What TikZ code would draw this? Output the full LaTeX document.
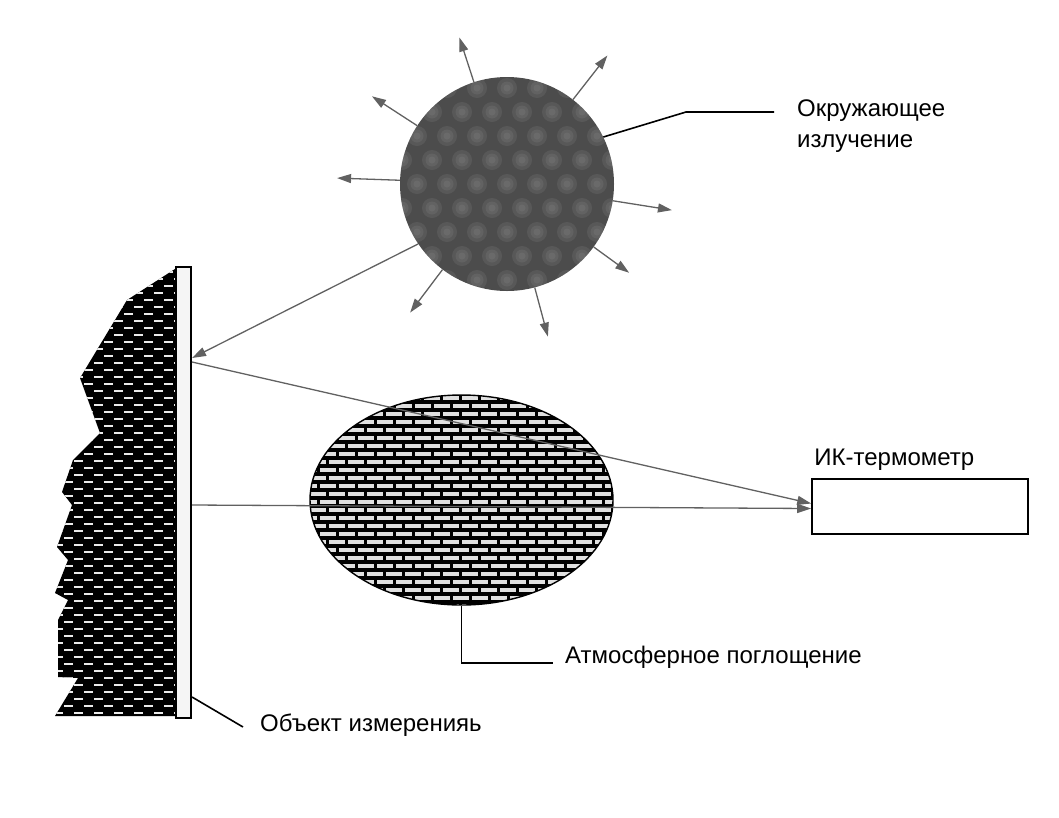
\documentclass[tikz,border=0pt]{standalone}
\usepackage{fontspec}
\setmainfont{Liberation Sans}
\usetikzlibrary{arrows.meta,calc,shapes.geometric}

\tikzset{
  ray/.style={draw=black!62, line width=1.3pt, -{Triangle[length=14pt,width=9pt]}},
  lead/.style={draw=black, line width=1.6pt},
  lbl/.style={anchor=west, inner sep=0pt, font=\fontsize{24}{31}\selectfont, align=left},
}

\begin{document}
\begin{tikzpicture}[x=1pt,y=-1pt]
    \useasboundingbox (0,0) rectangle (1059,817);

    % ambient source
    \node[circle, minimum size=214pt, inner sep=0pt, fill=black!70,
        path picture={
            \foreach \i in {-6,...,6}
                \foreach \j in {-6,...,6} {
                    \fill[gray!85, opacity=0.18] ($(path picture bounding box.center)+(\i*30pt+\j*15pt,\j*24pt)$) circle (10pt);
                    \fill[gray!85, opacity=0.18] ($(path picture bounding box.center)+(\i*30pt+\j*15pt,\j*24pt)$) circle (6.5pt);
                    \fill[gray!85, opacity=0.18] ($(path picture bounding box.center)+(\i*30pt+\j*15pt,\j*24pt)$) circle (3.5pt);
                }
        }] (sun) at (507,184) {};
    \foreach \a/\l in {108/154, 52/163, 147/161, 178/170, 351/167, 324/151, 233/161, 285/158}
        \draw[ray] (sun.\a) -- ($(sun)+(\a:\l pt)$);

    % measured object
    \begin{scope}
        \clip (178,267) -- (127,300) -- (80,378) -- (100,433) -- (73,460) -- (62,492) -- (72,505)
            -- (57,547) -- (68,560) -- (55,593) -- (68,600) -- (58,620) -- (58,677) -- (78,678)
            -- (55,716) -- (178,716) -- cycle;
        \fill[black] (40,260) rectangle (190,720);
        \foreach \r [evaluate=\r as \ph using {mod(\r,2)*10}] in {0,...,64}
            \draw[white!92!black, line width=2.2pt, dash pattern=on 9pt off 11pt, dash phase=\ph pt]
                (44,{272+\r*7}) -- (185,{272+\r*7});
    \end{scope}
    \node[draw, line width=1.3pt, fill=black!4, minimum width=15pt, minimum height=451pt, inner sep=0pt] (wall) at (183.5,492.5) {};
    \coordinate (hitA) at (192,358);
    \coordinate (hitB) at (192,362);
    \coordinate (hitC) at (192,505);

    % atmosphere
    \node[ellipse, draw, line width=1.4pt, minimum width=303pt, minimum height=210pt, inner sep=0pt,
        path picture={
            \fill[black] (path picture bounding box.south west) rectangle (path picture bounding box.north east);
            \foreach \r [evaluate=\r as \ph using {mod(\r,2)*9}] in {0,...,27}
                \draw[white!88!black, line width=4pt, dash pattern=on 16pt off 3pt, dash phase=\ph pt]
                    ($(path picture bounding box.north west)+(0,-\r*8pt-3pt)$) -- ++(310pt,0);
        }] (cloud) at (461.5,500) {};

    % IR thermometer
    \node[draw, line width=1.6pt, minimum width=216pt, minimum height=55pt, inner sep=0pt] (ir) at (920,506.5) {};
    \coordinate (inA) at ($(ir.west)+(0,-3)$);
    \coordinate (inB) at ($(ir.west)+(0,2)$);

    % rays
    \draw[ray] (sun.214) -- (hitA);
    \draw[ray] (hitB) -- (inA);
    \draw[ray] (hitC) -- (inB);

    % labels
    \coordinate (kneeS) at (686,112);
    \coordinate (endS) at (774,112);
    \draw[lead] (sun.26) -- (kneeS) -- (endS);
    \node[lbl] (lsun) at (797,126) {Окружающее\\излучение};

    \coordinate (endC) at (553,663);
    \draw[lead] (cloud.south) |- (endC);
    \node[lbl] (lcloud) at (565,657) {Атмосферное поглощение};

    \coordinate (footW) at (192,697);
    \coordinate (endW) at (243,727);
    \draw[lead] (footW) -- (endW);
    \node[lbl] (lwall) at (260,725) {Объект измеренияь};

    \node[lbl, anchor=south west] (lir) at ($(ir.north west)+(3,-8)$) {ИК-термометр};
\end{tikzpicture}
\end{document}
